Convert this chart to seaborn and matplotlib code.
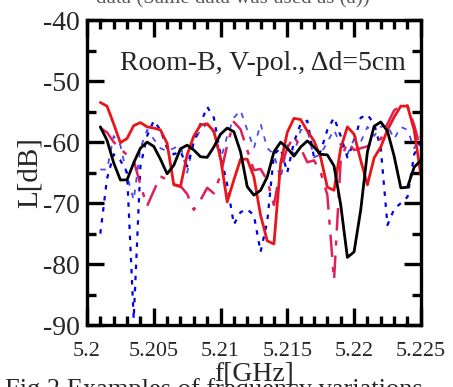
import matplotlib
matplotlib.use("Agg")
import matplotlib.pyplot as plt
import seaborn as sns
import pandas as pd

# frequency grid [GHz]
freq = [5.201, 5.2015, 5.202, 5.2025, 5.203, 5.2035, 5.204, 5.2045, 5.205, 5.2055,
        5.206, 5.2065, 5.207, 5.2075, 5.208, 5.2085, 5.209, 5.2095, 5.21, 5.2105,
        5.211, 5.2115, 5.212, 5.2125, 5.213, 5.2135, 5.214, 5.2145, 5.215, 5.2155,
        5.216, 5.2165, 5.217, 5.2175, 5.218, 5.2185, 5.219, 5.2195, 5.22, 5.2205,
        5.221, 5.2215, 5.222, 5.2225, 5.223, 5.2235, 5.224, 5.2245, 5.225]

# path loss L[dB]
loss_black = [-57.5, -59.7, -63.4, -66.2, -66.2, -63.4, -61.0, -60.0, -60.7, -62.8,
              -65.2, -63.8, -61.1, -60.5, -61.3, -62.4, -62.5, -60.8, -58.7, -57.7,
              -58.3, -61.6, -67.3, -68.7, -67.9, -65.7, -61.6, -60.0, -61.0, -62.3,
              -60.8, -59.8, -60.8, -62.0, -62.1, -63.9, -70.3, -78.9, -78.0, -71.1,
              -61.6, -57.4, -56.7, -58.2, -62.3, -67.5, -67.4, -64.1, -63.0]
loss_red = [-53.5, -54.1, -57.0, -60.1, -59.4, -57.3, -56.8, -57.5, -57.7, -58.0,
            -60.2, -67.0, -67.3, -62.1, -59.0, -57.2, -57.0, -58.2, -62.6, -69.8,
            -66.2, -62.8, -62.8, -65.7, -72.0, -76.2, -76.7, -63.5, -58.4, -56.1,
            -56.3, -58.2, -59.8, -62.5, -67.4, -67.9, -61.0, -57.5, -58.7, -63.0,
            -67.0, -62.6, -60.8, -58.0, -55.9, -54.1, -54.1, -58.0, -65.4]
loss_crimson = [-57.7, -58.4, -60.0, -61.1, -62.1, -63.0, -67.0, -70.5, -68.0, -65.6,
                -66.2, -66.9, -67.2, -68.5, -71.1, -69.5, -67.5, -68.4, -65.4, -60.5,
                -56.7, -57.9, -61.3, -64.6, -64.4, -66.3, -70.3, -64.3, -61.0, -59.0,
                -61.0, -63.3, -63.0, -64.9, -68.7, -82.6, -63.0, -60.0, -61.3, -61.0,
                -60.7, -59.7, -59.5, -57.0, -54.8, -54.0, -54.0, -57.2, -61.3]
loss_blue1 = [-75.0, -66.0, -62.0, -63.0, -65.0, -89.0, -64.0, -59.0, -56.5, -58.0,
              -61.0, -62.0, -61.5, -64.0, -60.0, -57.0, -54.2, -56.0, -62.0, -67.0,
              -73.5, -71.5, -71.0, -72.0, -78.0, -73.0, -62.0, -61.0, -65.0, -60.0,
              -57.0, -56.5, -62.5, -61.5, -58.0, -56.0, -59.0, -62.5, -60.0, -56.0,
              -55.5, -57.0, -61.0, -73.6, -71.0, -70.0, -69.0, -62.0, -60.0]
loss_blue2 = [-64.5, -64.5, -59.0, -60.5, -65.5, -69.5, -61.0, -58.0, -59.5, -61.0,
              -61.5, -61.0, -60.5, -65.0, -60.0, -58.0, -57.0, -58.5, -63.0, -59.0,
              -56.0, -54.8, -58.0, -61.0, -57.0, -61.0, -62.0, -66.0, -60.5, -62.0,
              -58.0, -58.0, -62.5, -62.0, -60.0, -58.0, -60.5, -62.0, -59.5, -60.0,
              -57.5, -59.0, -57.5, -57.2, -59.5, -57.5, -58.0, -61.0, -59.0]

x_ticks = [5.2, 5.205, 5.21, 5.215, 5.22, 5.225]
x_labels = ["5.2", "5.205", "5.21", "5.215", "5.22", "5.225"]
y_ticks = [-90, -80, -70, -60, -50, -40]

sns.set_theme(style="ticks")
plt.rcParams["font.family"] = ["Liberation Serif", "DejaVu Serif"]
plt.rcParams["axes.unicode_minus"] = False

fig = plt.figure(figsize=(4.53, 3.87), dpi=100)
ax = fig.add_axes([0.192, 0.160, 0.737, 0.788])

series = [
    (loss_blue2, "#4a4af0", 1.3, (0, (3, 4))),
    (loss_blue1, "#0000e6", 1.6, (0, (2, 3))),
    (loss_crimson, "#e0205a", 1.8, (0, (9, 4, 2, 4))),
    (loss_red, "#e8161b", 2.0, "-"),
    (loss_black, "black", 2.0, "-"),
]
for vals, col, lw, ls in series:
    df = pd.DataFrame({"f": freq, "L": vals})
    sns.lineplot(data=df, x="f", y="L", color=col, lw=lw, linestyle=ls, ax=ax)

ax.set_xlim(5.2, 5.225)
ax.set_ylim(-90, -40)
ax.set_xticks(x_ticks)
ax.set_xticklabels(x_labels)
ax.set_yticks(y_ticks)
ax.xaxis.set_minor_locator(matplotlib.ticker.MultipleLocator(0.001))
ax.yaxis.set_minor_locator(matplotlib.ticker.MultipleLocator(5))
ax.tick_params(which="both", direction="in", top=True, right=True, width=2.4, color="black")
ax.tick_params(which="major", length=12)
ax.tick_params(which="minor", length=6.5)
ax.tick_params(axis="x", which="major", labelsize=16, pad=12)
ax.tick_params(axis="y", which="major", labelsize=20, pad=5)
for s in ax.spines.values():
    s.set_linewidth(2.4)
    s.set_color("black")

ax.set_xlabel("f[GHz]", fontsize=20, labelpad=1)
ax.set_ylabel("L[dB]", fontsize=21, labelpad=0)

ax.text(0.099, 0.859, "Room-B, V-pol., Δd=5cm", transform=ax.transAxes,
        fontsize=20, va="center", ha="left")

# cropped caption lines of the scanned page (cut by the page edge, as in the scan)
fig.text(0.515, 0.99, "data (Same data was used as (a))", fontsize=15,
         ha="center", va="baseline", color="0.35")
fig.text(0.012, -0.022, "Fig.2 Examples of frequency variations", fontsize=19,
         ha="left", va="baseline")

fig.savefig("out.png", dpi=100)
